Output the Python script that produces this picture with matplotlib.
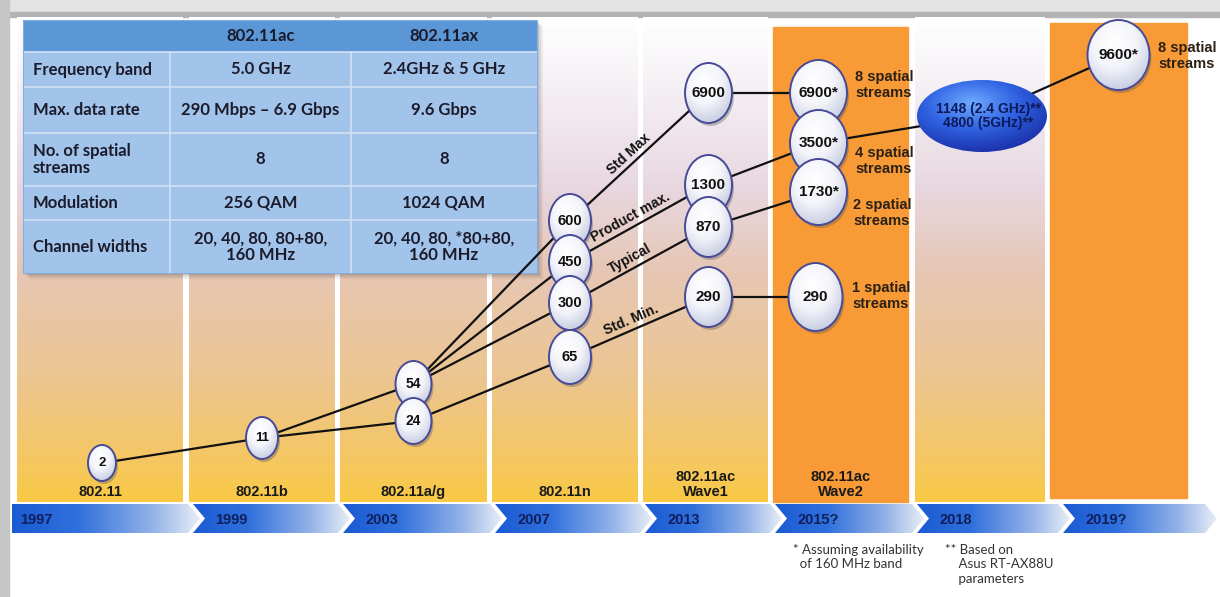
import numpy as np
import matplotlib.pyplot as plt
from matplotlib.colors import LinearSegmentedColormap
from matplotlib.patches import Rectangle, Ellipse, Polygon

# ---- data ----
years = ["1997", "1999", "2003", "2007", "2013", "2015?", "2018", "2019?"]
standards = ["802.11", "802.11b", "802.11a/g", "802.11n",
             "802.11ac\nWave1", "802.11ac\nWave2", "", ""]
orange_cols = [5, 7]

# data rates (Mbps) and the column (standard) each one belongs to
rates = ["2", "11", "54", "24", "600", "450", "300", "65",
         "6900", "1300", "870", "290",
         "6900*", "3500*", "1730*", "290",
         "1148 (2.4 GHz)**\n4800 (5GHz)**", "9600*"]
rate_col = [0, 1, 2, 2, 3, 3, 3, 3, 4, 4, 4, 4, 5, 5, 5, 5, 6, 7]
links = [(0, 1), (1, 2), (1, 3), (2, 4), (2, 5), (2, 6), (3, 7),
         (4, 8), (5, 9), (6, 10), (7, 11),
         (8, 12), (9, 13), (10, 14), (11, 15), (13, 16), (16, 17)]
link_labels = {(4, 8): "Std Max", (5, 9): "Product max.",
               (6, 10): "Typical", (7, 11): "Std. Min."}
stream_labels = {12: "8 spatial\nstreams", 13: "4 spatial\nstreams",
                 14: "2 spatial\nstreams", 15: "1 spatial\nstreams",
                 17: "8 spatial\nstreams"}

table_header = ["", "802.11ac", "802.11ax"]
table_rows = ["Frequency band", "Max. data rate", "No. of spatial\nstreams",
              "Modulation", "Channel widths"]
ac_values = ["5.0 GHz", "290 Mbps \u2013 6.9 Gbps", "8", "256 QAM",
             "20, 40, 80, 80+80,\n160 MHz"]
ax_values = ["2.4GHz & 5 GHz", "9.6 Gbps", "8", "1024 QAM",
             "20, 40, 80, *80+80,\n160 MHz"]
footnotes = ["* Assuming availability\n  of 160 MHz band",
             "** Based on\n    Asus RT-AX88U\n    parameters"]

# ---- layout (pixels) ----
col_left = [17, 189, 340, 492, 643, 773, 915, 1050]
col_right = [183, 335, 487, 638, 768, 908, 1045, 1187]
col_top = [17, 17, 17, 17, 17, 27, 17, 23]
col_bottom = [502, 502, 502, 502, 502, 502, 502, 498]
chev_left = [12, 193, 343, 495, 645, 775, 917, 1063]
chev_right = [188, 338, 490, 640, 770, 912, 1058, 1205]
tl_top, tl_bot = 504, 533
node_dx = [2, 0, 0, 0, 5, 5, 5, 5, 3, 3, 3, 3, -22, -22, -22, -25, 2, 0]
node_y = [463, 438, 384, 421, 221, 262, 303, 357, 93, 185, 227, 297,
          93, 143, 192, 297, 116, 55]
node_w = [28, 32, 36, 36, 42, 42, 42, 42, 47, 47, 47, 47, 57, 57, 57, 54, 130, 62]
node_h = [36, 42, 46, 46, 54, 54, 54, 54, 60, 60, 60, 60, 66, 66, 66, 68, 72, 70]
node_fs = [9.5, 9.5, 10, 10, 10.5, 10.5, 10.5, 10.5, 11, 11, 11, 11,
           11, 11, 11, 11, 10, 11]
stream_xy = {12: (855, 85), 13: (855, 161), 14: (853, 213), 15: (852, 296), 17: (1158, 56)}
tbl_x = [23, 170, 351, 537]
tbl_y = [20, 52, 87, 133, 186, 220, 273]

ARIAL = ["Liberation Sans", "DejaVu Sans"]
CALIBRI = ["Lato", "DejaVu Sans"]

fig = plt.figure(figsize=(12.2, 5.97), dpi=100)
ax = fig.add_axes([0, 0, 1, 1])


def shade(patch, colors, kind, z):
    patch.set_facecolor("none")
    patch.set_edgecolor("none")
    ax.add_patch(patch)
    bb = patch.get_path().transformed(patch.get_patch_transform()).get_extents()
    cmap = LinearSegmentedColormap.from_list("g", colors)
    n = 80
    if kind == "v":
        arr = np.linspace(0, 1, n)[:, None]
    elif kind == "h":
        arr = np.linspace(0, 1, n)[None, :]
    else:
        gx, gy = np.meshgrid(np.linspace(0, 1, n), np.linspace(0, 1, n))
        arr = np.clip(np.hypot(gx - 0.42, gy - 0.32) / 0.8, 0, 1)
    im = ax.imshow(arr, cmap=cmap, vmin=0, vmax=1, origin="upper",
                   extent=(bb.x0, bb.x1, bb.y1, bb.y0), aspect="auto",
                   interpolation="bilinear", zorder=z)
    im.set_clip_path(patch)


# page frame
ax.add_patch(Rectangle((0, 0), 1220, 12, color="#E3E3E3", zorder=0))
ax.add_patch(Rectangle((0, 12), 1220, 5, color="#B3B3B3", zorder=0))
ax.add_patch(Rectangle((0, 0), 9, 597, color="#C6C6C6", zorder=0))

# columns
col_grad = [(0.0, "#FFFFFF"), (0.15, "#F4EFF4"), (0.35, "#E8D7E0"),
            (0.52, "#E6C7B5"), (0.75, "#ECC590"), (0.92, "#F5C762"), (1.0, "#F9C947")]
for i in range(len(years)):
    w = col_right[i] - col_left[i]
    h = col_bottom[i] - col_top[i]
    if i in orange_cols:
        ax.add_patch(Rectangle((col_left[i], col_top[i]), w, h,
                               color="#F89A35", zorder=1))
    else:
        shade(Rectangle((col_left[i], col_top[i]), w, h), col_grad, "v", 1)

# timeline chevrons
tl_mid = (tl_top + tl_bot) / 2
for i, yr in enumerate(years):
    l, r = chev_left[i], chev_right[i]
    notch = l if i == 0 else l + 12
    pts = [(l, tl_top), (r, tl_top), (r + 12, tl_mid), (r, tl_bot),
           (l, tl_bot), (notch, tl_mid)]
    shade(Polygon(pts, closed=True),
          [(0, "#1B5BD4"), (0.35, "#3070DC"), (0.75, "#93B2E8"), (1, "#E6ECF6")],
          "h", 2)
    ax.text(l + (8 if i == 0 else 22), tl_mid + 1, yr, ha="left", va="center",
            fontsize=10.5, fontweight="bold", color="#0F1F5C",
            family=ARIAL, zorder=3)

# standard names above the timeline
for i, s in enumerate(standards):
    if s:
        cx = (col_left[i] + col_right[i]) / 2
        ax.text(cx, 499, s, ha="center", va="bottom", fontsize=10.5,
                fontweight="bold", color="#1A1A1A", family=ARIAL,
                linespacing=1.1, zorder=3)

# comparison table
tw, th = tbl_x[-1] - tbl_x[0], tbl_y[-1] - tbl_y[0]
for k, a in [(6, 0.06), (4, 0.08), (2, 0.1)]:
    ax.add_patch(Rectangle((tbl_x[0] + k, tbl_y[0] + k), tw, th,
                           color="black", alpha=a, lw=0, zorder=3))
ax.add_patch(Rectangle((tbl_x[0], tbl_y[1]), tw, tbl_y[-1] - tbl_y[1],
                       facecolor="#A3C4EA", edgecolor="none", zorder=3.1))
ax.add_patch(Rectangle((tbl_x[0], tbl_y[0]), tw, tbl_y[1] - tbl_y[0],
                       facecolor="#5B97D7", edgecolor="none", zorder=3.1))
for y in tbl_y[1:-1]:
    ax.plot([tbl_x[0], tbl_x[-1]], [y, y], color="#D3E2F5", lw=1.2, zorder=3.2)
for x in tbl_x[1:-1]:
    ax.plot([x, x], [tbl_y[1], tbl_y[-1]], color="#D3E2F5", lw=1.2, zorder=3.2)
ax.add_patch(Rectangle((tbl_x[0], tbl_y[0]), tw, th, facecolor="none",
                       edgecolor="#86ADE0", lw=0.8, zorder=3.3))

tkw = dict(fontsize=12, fontweight="bold", color="#1B1B2B", family=CALIBRI,
           linespacing=1.05, zorder=4)
for j, head in enumerate(table_header):
    if head:
        ax.text((tbl_x[j] + tbl_x[j + 1]) / 2, (tbl_y[0] + tbl_y[1]) / 2, head,
                ha="center", va="center", **tkw)
for r, label in enumerate(table_rows):
    yc = (tbl_y[r + 1] + tbl_y[r + 2]) / 2
    ax.text(tbl_x[0] + 10, yc, label, ha="left", va="center", **tkw)
    ax.text((tbl_x[1] + tbl_x[2]) / 2, yc, ac_values[r], ha="center", va="center", **tkw)
    ax.text((tbl_x[2] + tbl_x[3]) / 2, yc, ax_values[r], ha="center", va="center", **tkw)

# node positions
col_center = [(col_left[c] + col_right[c]) / 2 for c in range(len(years))]
node_x = [col_center[c] + node_dx[i] for i, c in enumerate(rate_col)]

# links
for a, b in links:
    ax.plot([node_x[a], node_x[b]], [node_y[a], node_y[b]], color="#111111",
            lw=1.6, zorder=5, solid_capstyle="round")
    if (a, b) in link_labels:
        x1, y1, x2, y2 = node_x[a], node_y[a], node_x[b], node_y[b]
        ang = np.degrees(np.arctan2(y1 - y2, x2 - x1))
        t = 0.46
        px, py = x1 + t * (x2 - x1), y1 + t * (y2 - y1)
        ax.text(px, py - 3, link_labels[(a, b)], rotation=ang, rotation_mode="anchor",
                ha="center", va="bottom", fontsize=10, fontweight="bold",
                color="#111111", family=ARIAL, zorder=6)

# bubbles
for i, lab in enumerate(rates):
    z = 10 + node_y[i] / 1000
    x, y, w, h = node_x[i], node_y[i], node_w[i], node_h[i]
    if rate_col[i] == 6:
        shade(Ellipse((x, y), w, h),
              [(0, "#6FAAFF"), (0.45, "#2F62E2"), (1, "#16249A")], "r", z)
        ax.text(x + 6, y, lab, ha="center", va="center", fontsize=node_fs[i],
                fontweight="bold", color="#0D1A5A", family=ARIAL,
                linespacing=1.05, zorder=z + 0.01)
        continue
    ax.add_patch(Ellipse((x + 2, y + 3), w, h, color="#555555", alpha=0.35,
                         lw=0, zorder=z - 0.003))
    shade(Ellipse((x, y), w, h),
          [(0, "#FFFFFF"), (0.45, "#F4F5FA"), (1, "#B9C1DA")], "r", z - 0.002)
    ax.add_patch(Ellipse((x, y), w, h, facecolor="none", edgecolor="#484A96",
                         lw=1.4, zorder=z - 0.001))
    ax.text(x, y, lab, ha="center", va="center", fontsize=node_fs[i],
            fontweight="bold", color="#111111", family=ARIAL, zorder=z)

# spatial stream labels
for i, lab in stream_labels.items():
    sx, sy = stream_xy[i]
    ax.text(sx, sy, lab, ha="left", va="center", fontsize=10.5, fontweight="bold",
            color="#2B2116", family=ARIAL, linespacing=1.1, zorder=20)

# footnotes
ax.text(793, 544, footnotes[0], ha="left", va="top", fontsize=9.5,
        color="#333333", family=CALIBRI, linespacing=1.25, zorder=20)
ax.text(945, 544, footnotes[1], ha="left", va="top", fontsize=9.5,
        color="#333333", family=CALIBRI, linespacing=1.25, zorder=20)

ax.set_xlim(0, 1220)
ax.set_ylim(597, 0)
ax.axis("off")
fig.savefig("out.png", dpi=100)
